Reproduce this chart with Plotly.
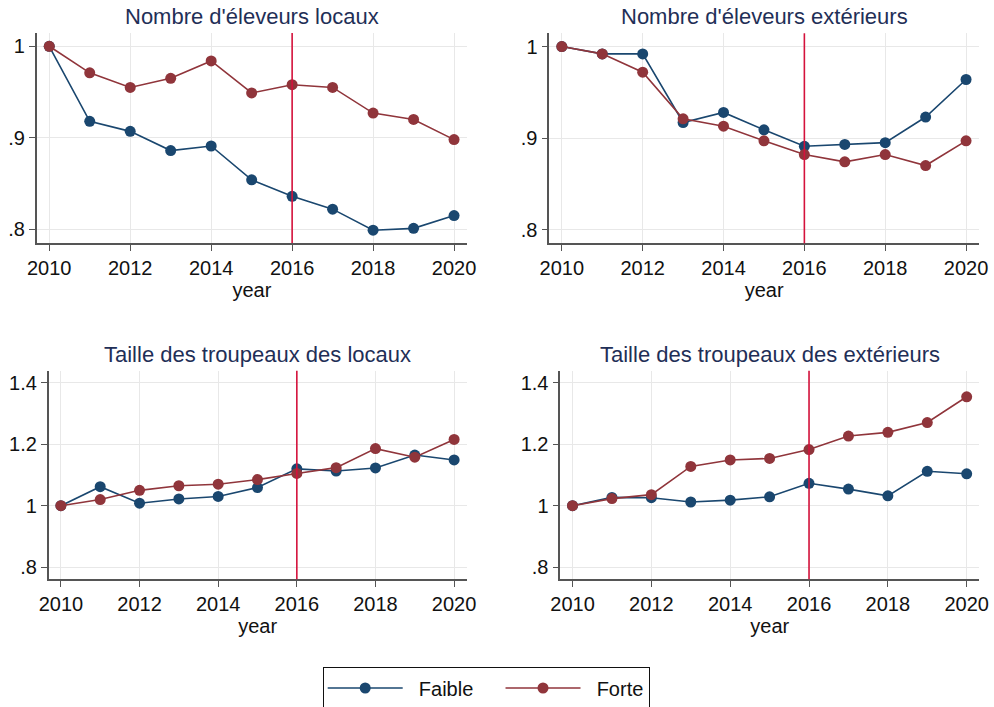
import plotly.graph_objects as go
from plotly.subplots import make_subplots

years = [2010, 2011, 2012, 2013, 2014, 2015, 2016, 2017, 2018, 2019, 2020]
event_year = 2016

titles = [
    "Nombre d'éleveurs locaux",
    "Nombre d'éleveurs extérieurs",
    "Taille des troupeaux des locaux",
    "Taille des troupeaux des extérieurs",
]

# Nombre d'éleveurs locaux
nb_locaux_faible = [1.0, 0.918, 0.907, 0.886, 0.891, 0.854, 0.836, 0.822, 0.799, 0.801, 0.815]
nb_locaux_forte = [1.0, 0.971, 0.955, 0.965, 0.984, 0.949, 0.958, 0.955, 0.927, 0.920, 0.898]
# Nombre d'éleveurs extérieurs
nb_ext_faible = [1.0, 0.992, 0.992, 0.917, 0.928, 0.909, 0.891, 0.893, 0.895, 0.923, 0.964]
nb_ext_forte = [1.0, 0.992, 0.972, 0.921, 0.913, 0.897, 0.882, 0.874, 0.882, 0.870, 0.897]
# Taille des troupeaux des locaux
taille_locaux_faible = [1.0, 1.062, 1.008, 1.022, 1.030, 1.059, 1.120, 1.113, 1.123, 1.165, 1.149]
taille_locaux_forte = [1.0, 1.020, 1.050, 1.065, 1.070, 1.085, 1.105, 1.124, 1.186, 1.158, 1.216]
# Taille des troupeaux des extérieurs
taille_ext_faible = [1.0, 1.027, 1.026, 1.012, 1.018, 1.029, 1.073, 1.054, 1.032, 1.112, 1.104]
taille_ext_forte = [1.0, 1.023, 1.036, 1.128, 1.149, 1.154, 1.183, 1.227, 1.239, 1.271, 1.355]

series_names = ["Faible", "Forte"]
top_yticks = [0.8, 0.9, 1.0]
top_yticktext = [".8", ".9", "1"]
bottom_yticks = [0.8, 1.0, 1.2, 1.4]
bottom_yticktext = [".8", "1", "1.2", "1.4"]
xticks = [2010, 2012, 2014, 2016, 2018, 2020]

panels = [
    (1, 1, nb_locaux_faible, nb_locaux_forte),
    (1, 2, nb_ext_faible, nb_ext_forte),
    (2, 1, taille_locaux_faible, taille_locaux_forte),
    (2, 2, taille_ext_faible, taille_ext_forte),
]

colors = ["#1a476f", "#90353b"]
FONT = "Liberation Sans, Arial, sans-serif"
NBSP = "\u00a0"
# legend label padding (leading gap after symbol, trailing gap before next entry)
label_pad = {"Faible": (2, 4), "Forte": (2, 0)}

fig = make_subplots(rows=2, cols=2)

for i, (r, c, faible, forte) in enumerate(panels):
    for name, vals, col in zip(series_names, [faible, forte], colors):
        lead, trail = label_pad[name]
        fig.add_trace(
            go.Scatter(
                x=years, y=vals, name=NBSP * lead + name + NBSP * trail,
                mode="lines+markers",
                line=dict(color=col, width=1.6),
                marker=dict(color=col, size=11),
                showlegend=(i == 0),
                legendgroup=name,
            ),
            row=r, col=c,
        )
    fig.add_vline(x=event_year, line=dict(color="#d4123c", width=1.6), row=r, col=c)

W, H = 994, 707
doms = {
    (1, 1): ((36.7, 467.0), (33.0, 243.0)),
    (1, 2): ((549.3, 979.0), (33.3, 243.3)),
    (2, 1): ((48.7, 466.7), (370.7, 579.3)),
    (2, 2): ((560.3, 979.3), (370.7, 579.3)),
}

annotations = []
for idx, (r, c, _, _) in enumerate(panels):
    (x0, x1), (yt, yb) = doms[(r, c)]
    xd = [x0 / W, x1 / W]
    yd = [1 - yb / H, 1 - yt / H]
    fig.update_xaxes(
        domain=xd, range=[2009.69, 2020.32], automargin=False,
        tickvals=xticks, ticks="outside", ticklen=6, tickwidth=1.4, tickcolor="#555555",
        showline=True, linecolor="#555555", linewidth=1.6,
        showgrid=True, gridcolor="#e8e8e8", gridwidth=1.4,
        zeroline=False,
        tickfont=dict(family=FONT, size=20, color="#111111"),
        title=dict(text="year", font=dict(family=FONT, size=20, color="#111111"), standoff=0),
        row=r, col=c,
    )
    if r == 1:
        yr, tv, tt = [0.785, 1.0145], top_yticks, top_yticktext
    else:
        yr, tv, tt = [0.76, 1.44], bottom_yticks, bottom_yticktext
    fig.update_yaxes(
        domain=yd, range=yr, tickvals=tv, ticktext=tt, automargin=False,
        ticks="outside", ticklen=6, tickwidth=1.4, tickcolor="#555555",
        showline=True, linecolor="#555555", linewidth=1.6,
        showgrid=True, gridcolor="#e8e8e8", gridwidth=1.4,
        zeroline=False,
        tickfont=dict(family=FONT, size=20, color="#111111"),
        row=r, col=c,
    )
    annotations.append(dict(
        text=titles[idx], xref="paper", yref="paper",
        x=(xd[0] + xd[1]) / 2, y=yd[1], xanchor="center", yanchor="bottom",
        yshift=2, showarrow=False,
        font=dict(family=FONT, size=22, color="#1f2f57"),
    ))

fig.update_layout(
    width=W, height=H,
    margin=dict(l=0, r=0, t=0, b=0, autoexpand=False),
    paper_bgcolor="white", plot_bgcolor="white",
    annotations=annotations,
    showlegend=True,
    legend=dict(
        orientation="h", x=322.7 / W, y=1 - 667.3 / H, xanchor="left", yanchor="top",
        bordercolor="#111111", borderwidth=1.2, bgcolor="white",
        font=dict(family=FONT, size=20, color="#111111"),
        itemwidth=75,
        tracegroupgap=0,
    ),
)

fig.write_html(
    "out.html",
    config={"displayModeBar": False},
    post_script="document.body.style.margin='0';",
)
